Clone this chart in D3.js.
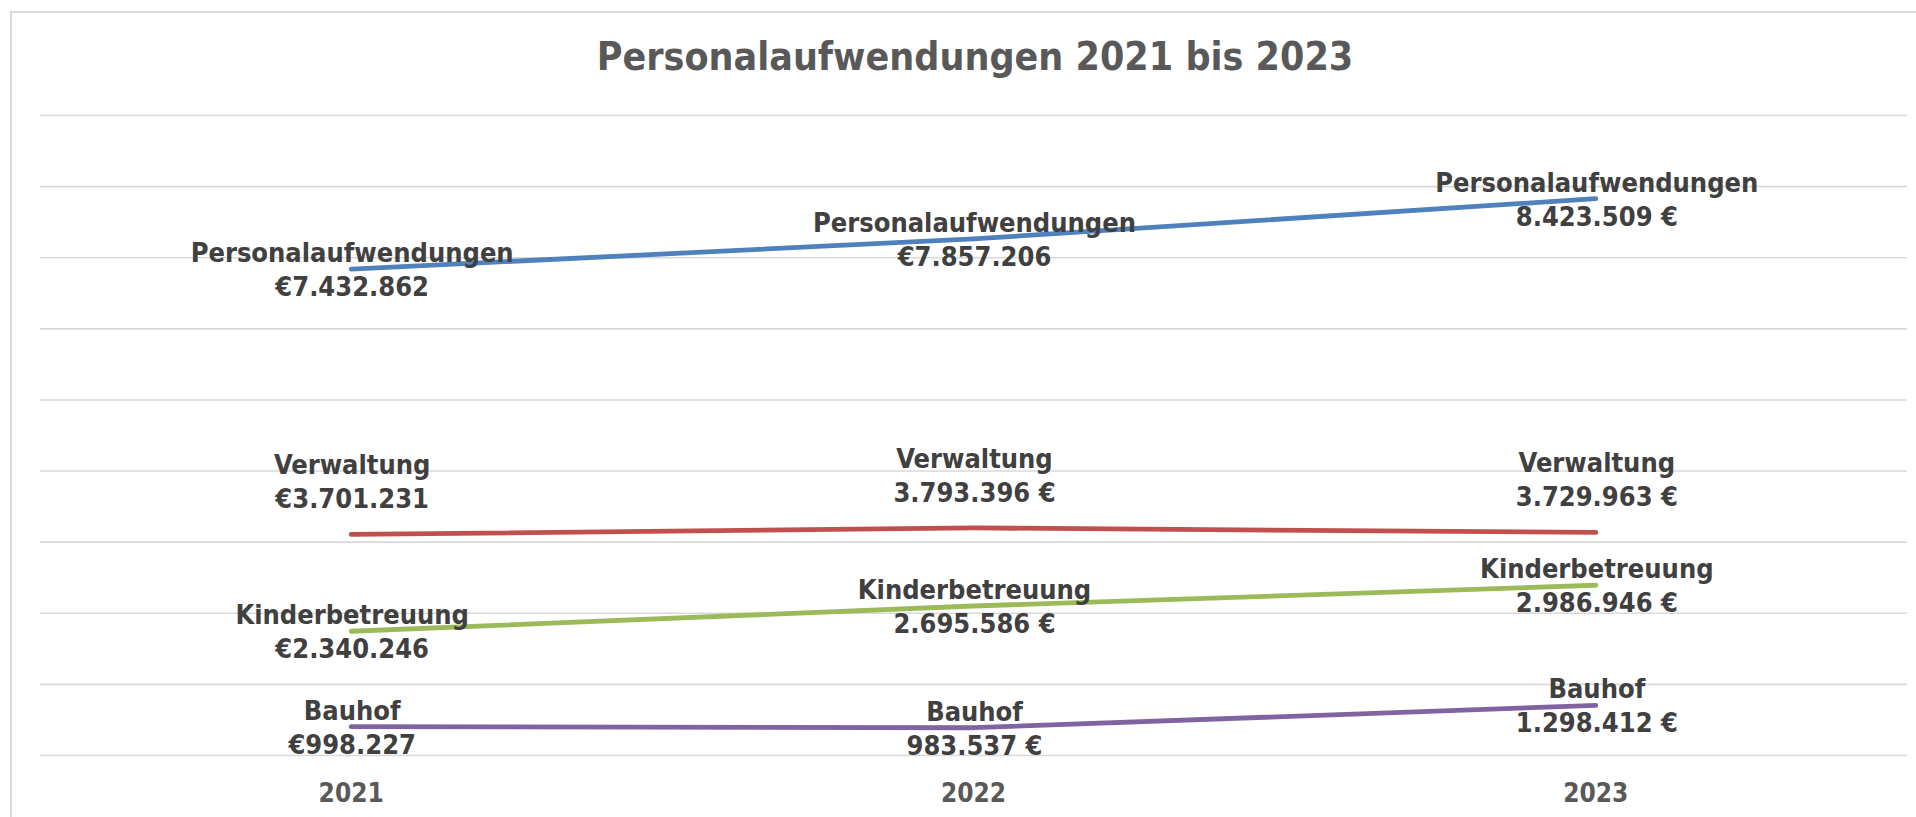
<!DOCTYPE html>
<html>
<head>
<meta charset="utf-8">
<script src="https://cdn.jsdelivr.net/npm/d3@7"></script>
<style>
  html, body { margin: 0; padding: 0; background: #ffffff; }
  svg { display: block; }
</style>
</head>
<body>
<script>
// ---- data ----
const years = ["2021", "2022", "2023"];
const seriesNames = ["Personalaufwendungen", "Verwaltung", "Kinderbetreuung", "Bauhof"];
const personalaufwendungen = [7432862, 7857206, 8423509];
const verwaltung = [3701231, 3793396, 3729963];
const kinderbetreuung = [2340246, 2695586, 2986946];
const bauhof = [998227, 983537, 1298412];
// position of the euro sign in each data label ("pre" = €1.234, "post" = 1.234 €)
const euroStyle = [
  ["pre", "pre", "post"],
  ["pre", "post", "post"],
  ["pre", "post", "post"],
  ["pre", "post", "post"]
];
const labelPlacement = ["center", "above", "center", "center"];
const gridValues = [600000, 1600000, 2600000, 3600000, 4600000, 5600000, 6600000, 7600000, 8600000, 9600000];
const colors = ["#4f81bd", "#c0504d", "#9bbb59", "#8064a2"];
const title = "Personalaufwendungen 2021 bis 2023";

const seriesValues = [personalaufwendungen, verwaltung, kinderbetreuung, bauhof];

// ---- layout ----
const W = 1916, H = 817;
const plot = { left: 40, right: 1907, top: 115, bottom: 755 };
const FONT = "'DejaVu Sans Condensed', 'DejaVu Sans', sans-serif";

const svg = d3.select("body").append("svg").attr("width", W).attr("height", H);

// chart border
svg.append("rect")
  .attr("x", 11).attr("y", 12).attr("width", W + 10).attr("height", H + 10)
  .attr("fill", "#fff").attr("stroke", "#d9d9d9").attr("stroke-width", 2);

const x = d3.scaleBand().domain(years).range([plot.left, plot.right]);
const cx = d => x(d) + x.bandwidth() / 2;
const y = d3.scaleLinear().domain([gridValues[0], gridValues[gridValues.length - 1]])
  .range([plot.bottom, plot.top]);

// gridlines
const yAxis = d3.axisLeft(y).tickValues(gridValues).tickSize(-(plot.right - plot.left)).tickFormat("");
const gy = svg.append("g").attr("transform", `translate(${plot.left},0)`).call(yAxis);
gy.select(".domain").remove();
gy.selectAll(".tick line").attr("stroke", "#d9d9d9").attr("stroke-width", 1.6);

// x axis labels
const xAxis = d3.axisBottom(x).tickSize(0).tickPadding(0);
const gx = svg.append("g").attr("transform", `translate(0,${plot.bottom})`).call(xAxis);
gx.select(".domain").remove();
gx.selectAll(".tick text")
  .attr("dy", null).attr("y", 47)
  .attr("font-family", FONT).attr("font-weight", "bold")
  .attr("font-size", 26).attr("fill", "#595959");

// title
svg.append("text")
  .attr("x", 975).attr("y", 70)
  .attr("text-anchor", "middle")
  .attr("font-family", FONT).attr("font-weight", "bold")
  .attr("font-size", 39).attr("fill", "#595959")
  .text(title);

// lines
const line = d3.line().x((d, i) => cx(years[i])).y(d => y(d));
seriesValues.forEach((vals, s) => {
  svg.append("path")
    .datum(vals)
    .attr("d", line)
    .attr("fill", "none")
    .attr("stroke", colors[s])
    .attr("stroke-width", 4.8)
    .attr("stroke-linecap", "round")
    .attr("stroke-linejoin", "round");
});

// data labels
const de = d3.formatLocale({ decimal: ",", thousands: ".", grouping: [3], currency: ["", ""] });
const fmt = de.format(",d");
const labelText = (v, style) => style === "pre" ? "€" + fmt(v) : fmt(v) + " €";

seriesValues.forEach((vals, s) => {
  vals.forEach((v, i) => {
    const px = cx(years[i]) + 1;
    const py = y(v);
    let b1, b2;
    if (labelPlacement[s] === "above") {
      b2 = py - 26; b1 = b2 - 34;
    } else {
      b1 = py - 7; b2 = py + 27;
    }
    const t = svg.append("text")
      .attr("text-anchor", "middle")
      .attr("font-family", FONT).attr("font-weight", "bold")
      .attr("font-size", 27).attr("fill", "#404040");
    t.append("tspan").attr("x", px).attr("y", b1).text(seriesNames[s]);
    t.append("tspan").attr("x", px).attr("y", b2).text(labelText(v, euroStyle[s][i]));
  });
});
</script>
</body>
</html>
